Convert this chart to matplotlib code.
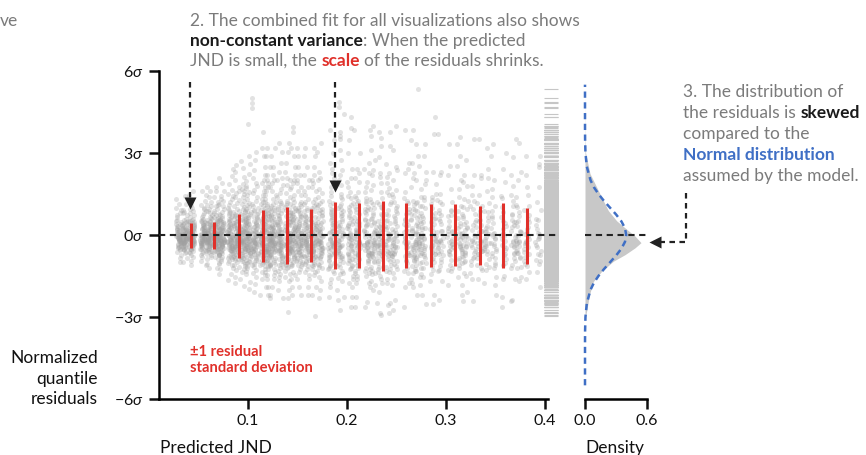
import numpy as np
import matplotlib.pyplot as plt

W, H = 866, 455
plt.rcParams['font.family'] = ['Lato', 'DejaVu Sans']
plt.rcParams['mathtext.fontset'] = 'custom'
plt.rcParams['mathtext.it'] = 'Lato:italic'
plt.rcParams['mathtext.rm'] = 'Lato'

# residual stripes: x position (predicted JND), spread, number of points
stripe_x = [0.030, 0.036, 0.043, 0.0545, 0.061, 0.068, 0.073, 0.082, 0.088, 0.095,
            0.100, 0.107, 0.115, 0.120, 0.125, 0.132, 0.140, 0.1455, 0.152, 0.159,
            0.166, 0.1725, 0.184, 0.193, 0.203, 0.210, 0.220, 0.226, 0.233, 0.2415,
            0.248, 0.260, 0.267, 0.272, 0.277, 0.287, 0.294, 0.304, 0.314, 0.319,
            0.3275, 0.334, 0.341, 0.348, 0.358, 0.368, 0.373, 0.3815, 0.393]
stripe_sd = [0.45, 0.45, 0.5, 0.5, 0.55, 0.55, 0.65, 0.75, 0.8, 0.85,
             0.9, 0.95, 1.0, 1.0, 1.0, 1.05, 1.05, 1.0, 1.0, 1.0,
             1.0, 1.05, 1.2, 1.25, 1.2, 1.2, 1.2, 1.25, 1.3, 1.3,
             1.25, 1.2, 1.2, 1.15, 1.15, 1.15, 1.15, 1.15, 1.15, 1.1,
             1.1, 1.1, 1.1, 1.15, 1.2, 1.1, 1.05, 1.0, 1.0]
stripe_n = [60, 70, 80, 80, 80, 80, 80, 80, 80, 80,
            80, 80, 80, 80, 80, 80, 80, 75, 75, 70,
            70, 70, 65, 65, 60, 60, 55, 55, 55, 50,
            50, 45, 45, 40, 40, 40, 35, 35, 35, 35,
            30, 30, 30, 30, 30, 30, 30, 30, 25]

# standardized residual shape (skewed)
base_resid = [0.12, -0.64, 1.05, -0.21, -1.15, 0.46, -0.38, 2.2, -0.05, -0.8,
              0.3, -1.6, 0.75, -0.29, -0.5, 1.45, 0.04, -0.95, 0.6, -0.14,
              2.9, -0.44, -1.05, 0.22, 0.92, -0.68, -0.26, 1.75, -1.35, 0.38,
              -0.11, -0.57, 0.07, 2.5, -0.9, 0.55, -0.35, -1.9, 1.2, -0.02,
              -0.72, 0.18, -0.47, 0.86, -1.25, 0.01, 1.62, -0.32, -0.6, 0.26,
              -2.2, 0.42, -0.17, 1.12, -0.85, 0.7, -0.41, 2.0, -0.08, -1.0,
              0.34, -0.54, 1.32, -0.23, -1.45, 0.5, -0.75, 0.98, 3.2, -0.2,
              0.14, -0.62, 0.65, -1.1, -0.36, 1.9, 0.09, -0.52, 0.8, -0.28]
jitter = [-0.8, 0.3, 0.9, -0.2, 0.5, -0.6, 0.1, -0.9, 0.7, -0.4, 0.2, 0.8,
          -0.7, -0.1, 0.6, -0.5, 0.4, -0.3, 1.0, 0.0, -1.0, 0.35, -0.45]

# isolated outliers
out_x = [0.104, 0.104, 0.104, 0.100, 0.272, 0.192, 0.192, 0.197, 0.2035, 0.2035,
         0.289, 0.145, 0.145, 0.115, 0.193, 0.193, 0.234, 0.314, 0.368, 0.394,
         0.140, 0.1675, 0.234, 0.122, 0.2416, 0.197, 0.220, 0.367, 0.293]
out_y = [5.0, 4.82, 4.64, 4.05, 5.33, 4.88, 4.7, 4.41, 4.33, 3.93,
         4.33, 3.96, 3.76, 3.78, 3.78, 3.5, 3.54, 3.6, 2.87, 2.6,
         -2.8, -2.96, -2.93, -2.32, -2.56, -2.26, -2.44, -2.38, -2.38]

# +-1 residual sd per bin
bin_x = [0.042, 0.066, 0.091, 0.115, 0.139, 0.164, 0.188, 0.212, 0.236, 0.260,
         0.285, 0.309, 0.334, 0.358, 0.382]
bin_hi = [0.43, 0.47, 0.78, 0.93, 1.02, 0.95, 1.21, 1.17, 1.26, 1.17, 1.12, 1.12, 1.07, 1.17, 1.0]
bin_lo = [-0.46, -0.51, -0.83, -0.98, -1.05, -0.98, -1.24, -1.21, -1.30, -1.20, -1.16, -1.15, -1.10, -1.21, -1.05]

# density of residuals and normal reference
kde_y = [5.4, 3.6, 3.0, 2.25, 1.75, 1.38, 0.89, 0.52, 0.21, -0.04, -0.28, -0.47,
         -0.72, -0.96, -1.33, -1.7, -2.2, -2.7, -3.1]
kde_d = [0.0, 0.002, 0.006, 0.048, 0.113, 0.161, 0.226, 0.306, 0.403, 0.484, 0.542, 0.484,
         0.387, 0.274, 0.161, 0.081, 0.042, 0.02, 0.0]
norm_y = [-5.5, -4.0, -3.5, -3.0, -2.5, -2.0, -1.75, -1.5, -1.25, -1.0, -0.75, -0.5, -0.25, 0.0,
          0.25, 0.5, 0.75, 1.0, 1.25, 1.5, 1.75, 2.0, 2.5, 3.0, 3.5, 4.0, 5.5]
norm_d = [0.0, 0.0001, 0.0009, 0.0044, 0.0175, 0.054, 0.086, 0.130, 0.183, 0.242, 0.301, 0.352, 0.387, 0.399,
          0.387, 0.352, 0.301, 0.242, 0.183, 0.130, 0.086, 0.054, 0.0175, 0.0044, 0.0009, 0.0001, 0.0]

xs, ys = [], []
for i in range(len(stripe_x)):
    for k in range(stripe_n[i]):
        xs.append(stripe_x[i] + 0.0028 * jitter[(i * 5 + k) % len(jitter)])
        ys.append(stripe_sd[i] * base_resid[(i * 17 + k) % len(base_resid)])
xs += out_x
ys += out_y

GRAY = '#7b7b7b'
RED = '#e0302a'
BLUE = '#3f6fc5'
FS = 12.5

fig = plt.figure(figsize=(W / 100, H / 100), dpi=100)
ax = fig.add_axes([159 / W, 1 - 399 / H, 388.5 / W, 328 / H])
axd = fig.add_axes([585 / W, 1 - 399 / H, 62 / W, 328 / H])

ax.scatter(xs, ys, s=13, color='#a0a0a0', alpha=0.3, linewidths=0, zorder=2)
ax.hlines(ys, 0.399, 0.413, color='#c6c6c6', lw=0.8, clip_on=False, zorder=1)
ax.vlines(bin_x, bin_lo, bin_hi, color=RED, lw=2.2, zorder=4)
ax.plot([0.01, 0.411], [0, 0], color='#222222', lw=1.5, ls=(0, (3, 2.2)), clip_on=False, zorder=5)

# arrows for annotation 2
for ax_x, tip in [(0.041, 0.98), (0.1877, 1.58)]:
    ax.plot([ax_x, ax_x], [5.6, tip + 0.3], color='#222222', lw=1.6, ls=(0, (2.5, 2)), zorder=5)
    ax.plot(ax_x, tip + 0.2, marker='v', ms=9, color='#222222', mec='none', zorder=5)

ax.set_xlim(0.01, 0.4025)
ax.set_ylim(-6, 6)
ax.set_xticks([0.1, 0.2, 0.3, 0.4])
ax.set_xticklabels(['0.1', '0.2', '0.3', '0.4'])
ax.set_yticks([-6, -3, 0, 3, 6])
ax.set_yticklabels(['\u22126$\\sigma$', '\u22123$\\sigma$', '0$\\sigma$', '3$\\sigma$', '6$\\sigma$'])
for s in ['top', 'right']:
    ax.spines[s].set_visible(False)

axd.fill_betweenx(kde_y, 0, kde_d, color='#c8c8c8', lw=0, zorder=1)
axd.plot(norm_d, norm_y, color=BLUE, lw=1.8, ls=(0, (2.5, 1.8)), zorder=3, clip_on=False)
axd.plot([0, 0.59], [0, 0], color='#222222', lw=1.5, ls=(0, (3, 2.2)), zorder=4)
axd.plot([0.975, 0.975, 0.70], [1.54, -0.245, -0.245], color='#222222', lw=1.6,
         ls=(0, (2.5, 2)), clip_on=False, zorder=5)
axd.plot(0.677, -0.245, marker='<', ms=9, color='#222222', mec='none', clip_on=False, zorder=5)
axd.set_xlim(0, 0.6)
axd.set_ylim(-6, 6)
axd.set_xticks([0, 0.6])
axd.set_xticklabels(['0.0', '0.6'])
axd.set_yticks([])
for s in ['top', 'right', 'left']:
    axd.spines[s].set_visible(False)

for a in (ax, axd):
    a.spines['left'].set_linewidth(1.8)
    a.spines['bottom'].set_linewidth(1.8)
    a.tick_params(width=1.8, length=7, labelsize=11.5, colors='#111111', pad=4)

# labels
fig.text(160 / W, 1 - 453 / H, 'Predicted JND', fontsize=FS, color='#111111', va='baseline')
fig.text(585 / W, 1 - 453 / H, 'Density', fontsize=FS, color='#111111', va='baseline')
for line, yb in zip(['Normalized', 'quantile', 'residuals'], [363, 384, 404]):
    fig.text(98 / W, 1 - yb / H, line, fontsize=FS, color='#111111', ha='right', va='baseline')
fig.text(190 / W, 1 - 356 / H, '\u00b11 residual', fontsize=10.6, color=RED,
         fontweight='bold', va='baseline')
fig.text(190 / W, 1 - 372 / H, 'standard deviation', fontsize=10.6, color=RED,
         fontweight='bold', va='baseline')
fig.text(0, 1 - 26 / H, 've', fontsize=FS, color=GRAY, va='baseline')

renderer = fig.canvas.get_renderer()


def width_of(txt, weight):
    t = fig.text(0, 0, txt, fontsize=FS, fontweight=weight)
    w = t.get_window_extent(renderer).width
    t.remove()
    return w


space_w = width_of('x x', 'normal') - width_of('xx', 'normal')


def rich_line(x0, yb, parts):
    x = x0
    for txt, color, weight in parts:
        lead = len(txt) - len(txt.lstrip(' '))
        x += lead * space_w
        t = fig.text(x / W, 1 - yb / H, txt.strip(' '), fontsize=FS, color=color,
                     fontweight=weight, va='baseline', ha='left')
        x = t.get_window_extent(renderer).x1
        trail = len(txt) - len(txt.rstrip(' '))
        x += trail * space_w


rich_line(190, 26, [('2. The combined fit for all visualizations also shows', GRAY, 'normal')])
rich_line(190, 46, [('non-constant variance', '#1a1a1a', 'bold'),
                    (': When the predicted', GRAY, 'normal')])
rich_line(190, 66, [('JND is small, the ', GRAY, 'normal'), ('scale', RED, 'bold'),
                    (' of the residuals shrinks.', GRAY, 'normal')])

rich_line(683, 97, [('3. The distribution of', GRAY, 'normal')])
rich_line(683, 118, [('the residuals is ', GRAY, 'normal'), ('skewed', '#1a1a1a', 'bold')])
rich_line(683, 139, [('compared to the', GRAY, 'normal')])
rich_line(683, 160, [('Normal distribution', BLUE, 'bold')])
rich_line(683, 181, [('assumed by the model.', GRAY, 'normal')])

fig.savefig('out.png', dpi=100)
